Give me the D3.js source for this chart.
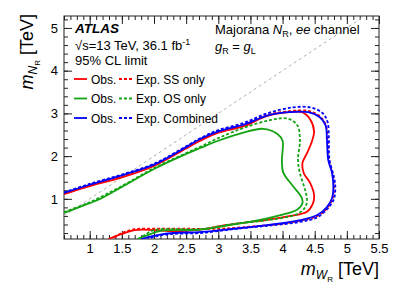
<!DOCTYPE html>
<html>
<head>
<meta charset="utf-8">
<script src="https://cdn.jsdelivr.net/npm/d3@7"></script>
<style>
  body { margin: 0; background: #fff; }
  text { font-family: "Liberation Sans", Arial, sans-serif; fill: #000; }
</style>
</head>
<body>
<div id="chart"></div>
<script>
// contour points are [m_WR, m_NR] in TeV
const obsSS = [[0.6,1.11],[1.0,1.3],[1.5,1.5],[2.0,1.77],[2.5,2.18],[2.72,2.36],[3.0,2.55],[3.4,2.7],[3.76,2.94],[4.1,3.03],[4.3,3.03],[4.43,2.86],[4.49,2.58],[4.46,2.36],[4.38,2.07],[4.31,1.84],[4.33,1.6],[4.43,1.37],[4.49,1.09],[4.47,0.88],[4.38,0.7],[4.12,0.6],[3.76,0.51],[3.5,0.46],[3.14,0.39],[2.72,0.28],[2.3,0.24],[2.0,0.27],[1.7,0.27],[1.5,0.18],[1.29,0.06]];
const expSS = [[0.6,1.12],[1.0,1.31],[1.5,1.52],[2.0,1.79],[2.5,2.2],[2.72,2.39],[3.0,2.57],[3.4,2.74],[3.76,2.96],[4.1,3.05],[4.4,3.06],[4.58,2.93],[4.67,2.74],[4.7,2.38],[4.72,1.91],[4.78,1.58],[4.8,1.28],[4.78,1.02],[4.7,0.8],[4.54,0.6],[4.27,0.49],[4.0,0.42],[3.5,0.35],[3.0,0.3],[2.5,0.3],[2.0,0.3],[1.7,0.29],[1.5,0.2],[1.35,0.06]];
const obsOS = [[0.6,0.67],[1.0,0.9],[1.16,1.0],[1.5,1.28],[2.0,1.7],[2.5,2.05],[2.72,2.19],[3.0,2.36],[3.39,2.55],[3.7,2.64],[3.92,2.52],[4.0,2.36],[3.99,1.91],[4.01,1.62],[4.16,1.3],[4.29,1.05],[4.31,0.9],[4.23,0.75],[4.0,0.63],[3.65,0.51],[3.23,0.4],[2.72,0.28],[2.3,0.27],[2.1,0.25],[1.9,0.15],[1.74,0.06]];
const expOS = [[0.6,0.69],[1.0,0.92],[1.5,1.3],[2.0,1.72],[2.5,2.07],[2.72,2.22],[3.0,2.42],[3.39,2.66],[3.8,2.84],[4.08,2.88],[4.23,2.72],[4.27,2.38],[4.24,1.91],[4.27,1.6],[4.35,1.21],[4.38,0.97],[4.35,0.8],[4.22,0.64],[3.76,0.5],[3.23,0.41],[2.72,0.29],[2.3,0.29],[2.0,0.27],[1.85,0.15],[1.76,0.06]];
const obsComb = [[0.6,1.14],[1.0,1.33],[1.5,1.55],[2.0,1.8],[2.5,2.21],[2.72,2.4],[3.0,2.58],[3.4,2.74],[3.76,2.95],[4.1,3.03],[4.4,3.03],[4.58,2.91],[4.67,2.72],[4.69,2.38],[4.71,1.91],[4.77,1.6],[4.79,1.28],[4.77,1.02],[4.69,0.81],[4.54,0.62],[4.27,0.5],[4.0,0.43],[3.5,0.34],[3.0,0.26],[2.7,0.22],[2.3,0.2],[2.05,0.15],[1.9,0.1],[1.8,0.06]];
const expComb = [[0.6,1.15],[1.0,1.35],[1.5,1.57],[2.0,1.82],[2.5,2.23],[2.72,2.42],[3.0,2.61],[3.4,2.78],[3.76,3.0],[4.16,3.14],[4.43,3.14],[4.62,3.01],[4.7,2.8],[4.72,2.38],[4.73,1.91],[4.8,1.51],[4.82,1.28],[4.8,1.0],[4.71,0.79],[4.54,0.57],[4.27,0.46],[3.76,0.37],[3.23,0.29],[2.72,0.2],[2.3,0.18],[2.05,0.13],[1.9,0.06]];

const xTicks = [1, 1.5, 2, 2.5, 3, 3.5, 4, 4.5, 5, 5.5];
const yTicks = [1, 2, 3, 4, 5];

const svgWidth = 399;
const svgHeight = 286;
const frame = { left: 64, right: 379, top: 16, bottom: 239 };

const red = "#ff0000", green = "#13a313", blue = "#0000ff";

let svg = d3.select("#chart").append("svg").attr("width", svgWidth).attr("height", svgHeight);

let x = d3.scaleLinear().domain([0.6, 5.5]).range([frame.left, frame.right]);
let y = d3.scaleLinear().domain([0.06, 5.28]).range([frame.bottom, frame.top]);

const xMinor = d3.range(6, 56).map(d => d / 10);
const yMinor = d3.range(1, 27).map(d => d / 5);

// ticks on all four sides, pointing inwards
function tickAxis(axis, transform, values, size, labels, pad) {
    let g = svg.append("g").attr("transform", transform)
        .call(axis.tickValues(values).tickSize(size).tickPadding(pad)
            .tickFormat(labels ? d3.format("") : ""));
    g.select(".domain").remove();
    g.selectAll("line").attr("stroke", "#222");
    g.selectAll("text").style("font-size", "13px").style("font-family", "'Liberation Sans', Arial, sans-serif");
    return g;
}
tickAxis(d3.axisBottom(x), `translate(0,${frame.bottom})`, xMinor, -4, false, 0);
tickAxis(d3.axisBottom(x), `translate(0,${frame.bottom})`, xTicks, -8, true, 5);
tickAxis(d3.axisTop(x), `translate(0,${frame.top})`, xMinor, -4, false, 0);
tickAxis(d3.axisTop(x), `translate(0,${frame.top})`, xTicks, -8, false, 0);
tickAxis(d3.axisLeft(y), `translate(${frame.left},0)`, yMinor, -4, false, 0);
tickAxis(d3.axisLeft(y), `translate(${frame.left},0)`, yTicks, -8, true, 6);
tickAxis(d3.axisRight(y), `translate(${frame.right},0)`, yMinor, -4, false, 0);
tickAxis(d3.axisRight(y), `translate(${frame.right},0)`, yTicks, -8, false, 0);

svg.append("rect")
    .attr("x", frame.left).attr("y", frame.top)
    .attr("width", frame.right - frame.left).attr("height", frame.bottom - frame.top)
    .attr("fill", "none").attr("stroke", "#222").attr("stroke-width", 1);

svg.append("clipPath").attr("id", "plotArea").append("rect")
    .attr("x", frame.left).attr("y", frame.top)
    .attr("width", frame.right - frame.left).attr("height", frame.bottom - frame.top);

let plot = svg.append("g").attr("clip-path", "url(#plotArea)");

// m_N = m_W diagonal
plot.append("line")
    .attr("x1", x(0.6)).attr("y1", y(0.6))
    .attr("x2", x(5.5)).attr("y2", y(5.5))
    .attr("stroke", "#b0b0b0").attr("stroke-width", 1).attr("stroke-dasharray", "3,3");

const line = d3.line()
    .x(d => x(d[0]))
    .y(d => y(d[1]))
    .curve(d3.curveCatmullRom.alpha(0.5));

const curves = [
    { data: expSS, color: red, dash: true },
    { data: obsSS, color: red, dash: false },
    { data: expOS, color: green, dash: true },
    { data: obsOS, color: green, dash: false },
    { data: obsComb, color: blue, dash: false },
    { data: expComb, color: blue, dash: true }
];

curves.forEach(c => {
    plot.append("path")
        .attr("d", line(c.data))
        .attr("fill", "none")
        .attr("stroke", c.color)
        .attr("stroke-width", 1.8)
        .attr("stroke-dasharray", c.dash ? "3,2" : null);
});

// texts
svg.append("text").attr("x", 75).attr("y", 33)
    .style("font-size", "13.5px").style("font-weight", "bold").style("font-style", "italic")
    .text("ATLAS");

let t1 = svg.append("text").attr("x", 75).attr("y", 50).style("font-size", "13px");
t1.append("tspan").text("√s=13 TeV, 36.1 fb");
t1.append("tspan").attr("dy", -5).style("font-size", "9px").text("-1");

svg.append("text").attr("x", 75).attr("y", 65).style("font-size", "13px").text("95% CL limit");

let t2 = svg.append("text").attr("x", 215).attr("y", 34).style("font-size", "13px");
t2.append("tspan").text("Majorana ");
t2.append("tspan").style("font-style", "italic").text("N");
t2.append("tspan").attr("dy", 3).style("font-size", "9px").text("R");
t2.append("tspan").attr("dy", -3).text(", ");
t2.append("tspan").style("font-style", "italic").text("ee");
t2.append("tspan").text(" channel");

let t3 = svg.append("text").attr("x", 215).attr("y", 51).style("font-size", "13px");
t3.append("tspan").style("font-style", "italic").text("g");
t3.append("tspan").attr("dy", 3).style("font-size", "9px").text("R");
t3.append("tspan").attr("dy", -3).text(" = ");
t3.append("tspan").style("font-style", "italic").text("g");
t3.append("tspan").attr("dy", 3).style("font-size", "9px").text("L");

// legend
const legendRows = [
    { color: red, label: "Exp. SS only" },
    { color: green, label: "Exp. OS only" },
    { color: blue, label: "Exp. Combined" }
];
legendRows.forEach((r, i) => {
    let cy = 79 + i * 19.5;
    svg.append("line").attr("x1", 74).attr("x2", 87).attr("y1", cy).attr("y2", cy)
        .attr("stroke", r.color).attr("stroke-width", 1.8);
    svg.append("text").attr("x", 91).attr("y", cy + 4.5).style("font-size", "12px").text("Obs.");
    svg.append("line").attr("x1", 119).attr("x2", 132).attr("y1", cy).attr("y2", cy)
        .attr("stroke", r.color).attr("stroke-width", 1.8).attr("stroke-dasharray", "3,2");
    svg.append("text").attr("x", 136).attr("y", cy + 4.5).style("font-size", "12px").text(r.label);
});

// axis titles
let xt = svg.append("text").attr("x", 379).attr("y", 275).attr("text-anchor", "end").style("font-size", "18px");
xt.append("tspan").style("font-style", "italic").text("m");
xt.append("tspan").attr("dy", 4).style("font-size", "12px").style("font-style", "italic").text("W");
xt.append("tspan").attr("dy", 3).style("font-size", "8px").text("R");
xt.append("tspan").attr("dy", -7).text(" [TeV]");

let yt = svg.append("text").attr("transform", "translate(33,14) rotate(-90)").attr("text-anchor", "end").style("font-size", "18px");
yt.append("tspan").style("font-style", "italic").text("m");
yt.append("tspan").attr("dy", 4).style("font-size", "12px").style("font-style", "italic").text("N");
yt.append("tspan").attr("dy", 3).style("font-size", "8px").text("R");
yt.append("tspan").attr("dy", -7).text(" [TeV]");
</script>
</body>
</html>
